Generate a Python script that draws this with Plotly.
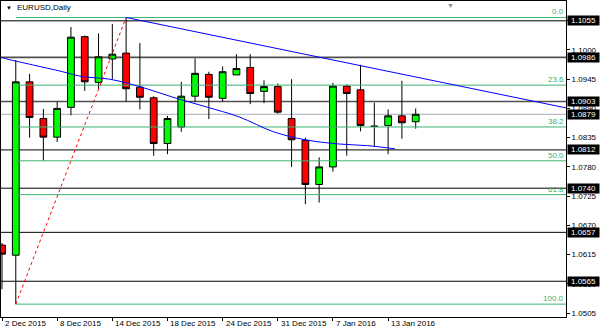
import datetime as dt
import plotly.graph_objects as go

# ---------------- data ----------------
dates = ["2015-12-02", "2015-12-03", "2015-12-04", "2015-12-07", "2015-12-08",
         "2015-12-09", "2015-12-10", "2015-12-11", "2015-12-14", "2015-12-15",
         "2015-12-16", "2015-12-17", "2015-12-18", "2015-12-21", "2015-12-22",
         "2015-12-23", "2015-12-24", "2015-12-28", "2015-12-29", "2015-12-30",
         "2015-12-31", "2016-01-04", "2016-01-05", "2016-01-06", "2016-01-07",
         "2016-01-08", "2016-01-11", "2016-01-12", "2016-01-13", "2016-01-14",
         "2016-01-15"]
opens = [1.0633, 1.0614, 1.0940, 1.0871, 1.0836, 1.0892, 1.1025, 1.0939, 1.0983, 1.0994,
         1.0930, 1.0910, 1.0824, 1.0855, 1.0913, 1.0954, 1.0909, 1.0953, 1.0967, 1.0922,
         1.0931, 1.0871, 1.0830, 1.0747, 1.0780, 1.0932, 1.0925, 1.0857, 1.0858, 1.0876,
         1.0865]
highs = [1.0637, 1.0981, 1.0955, 1.0889, 1.0902, 1.1043, 1.1027, 1.1031, 1.1049, 1.1061,
         1.1013, 1.0913, 1.0876, 1.0940, 1.0984, 1.0959, 1.0969, 1.0992, 1.0992, 1.0943,
         1.0937, 1.0945, 1.0835, 1.0798, 1.0938, 1.0935, 1.0972, 1.0901, 1.0888, 1.0942,
         1.0890]
lows = [1.0550, 1.0522, 1.0835, 1.0792, 1.0827, 1.0877, 1.0923, 1.0927, 1.0945, 1.0903,
        1.0888, 1.0801, 1.0804, 1.0846, 1.0902, 1.0870, 1.0903, 1.0953, 1.0898, 1.0900,
        1.0880, 1.0780, 1.0710, 1.0713, 1.0771, 1.0801, 1.0847, 1.0818, 1.0804, 1.0833,
        1.0852]
closes = [1.0616, 1.0940, 1.0873, 1.0836, 1.0890, 1.1024, 1.0940, 1.0987, 1.0992, 1.0927,
          1.0911, 1.0824, 1.0871, 1.0913, 1.0956, 1.0911, 1.0959, 1.0965, 1.0918, 1.0931,
          1.0883, 1.0831, 1.0747, 1.0780, 1.0932, 1.0918, 1.0858, 1.0856, 1.0876, 1.0863,
          1.0879]

label_idx = [0, 4, 8, 12, 16, 20, 24, 28]          # bars carrying a date label

sr_upper = [1.1055, 1.0986, 1.0903]                 # grey horizontal lines
sr_lower = [1.0812, 1.0740, 1.0657, 1.0565]         # black horizontal lines
bid_price = 1.0879

fib_start_idx = 1
fib_low = 1.0522
fib_high = 1.1061
fib_levels = [0.0, 23.6, 38.2, 50.0, 61.8, 100.0]
fib_link_x = [1, 9]
fib_link_y = [1.0522, 1.1061]

trend_x = [9, 40.9]
trend_y = [1.1061, 1.0891]

curve_x = [-0.07, 0.5, 2.2, 4.4, 5.8, 7.8, 10.0, 12.4, 14.8, 17.2, 19.7, 22.0, 24.5, 26.5, 28.5]
curve_y = [1.0986, 1.0982, 1.0972, 1.0959, 1.0950, 1.0945, 1.0931, 1.0911, 1.0893, 1.0874,
           1.0846, 1.0831, 1.0823, 1.0820, 1.0814]

ytick_start = 1.0505
ytick_step = 0.0055
ytick_count = 11

XMIN, XMAX = -0.0725, 40.9
YMIN, YMAX = 1.04978, 1.10920

FONT = "Liberation Sans, Arial, sans-serif"
GREEN_FIB = "#3CB371"

# ---------------- figure ----------------
xs = list(range(len(dates)))
fig = go.Figure()

# fib lines
for lv in fib_levels:
    p = fib_high - (fib_high - fib_low) * lv / 100.0
    fig.add_trace(go.Scatter(x=[fib_start_idx, XMAX], y=[p, p], mode="lines",
                             line=dict(color=GREEN_FIB, width=1), hoverinfo="skip",
                             showlegend=False))

# red dashed fib link
fig.add_trace(go.Scatter(x=fib_link_x, y=fib_link_y, mode="lines",
                         line=dict(color="#ff0000", width=1, dash="3px,3px"),
                         hoverinfo="skip", showlegend=False))

# blue lines
fig.add_trace(go.Scatter(x=trend_x, y=trend_y, mode="lines",
                         line=dict(color="#0000ff", width=1), hoverinfo="skip",
                         showlegend=False))
fig.add_trace(go.Scatter(x=curve_x, y=curve_y, mode="lines",
                         line=dict(color="#0000ff", width=1, shape="spline"),
                         hoverinfo="skip", showlegend=False))

# candles
fig.add_trace(go.Candlestick(
    x=xs, open=opens, high=highs, low=lows, close=closes,
    increasing=dict(fillcolor="#00ff00", line=dict(color="black", width=1)),
    decreasing=dict(fillcolor="#ff0000", line=dict(color="black", width=1)),
    whiskerwidth=0, showlegend=False, hoverinfo="skip"))

shapes = []
for p in sr_upper:
    shapes.append(dict(type="line", xref="paper", x0=0, x1=1, yref="y", y0=p, y1=p,
                       line=dict(color="#505050", width=1.6), layer="below"))
for p in sr_lower:
    shapes.append(dict(type="line", xref="paper", x0=0, x1=1, yref="y", y0=p, y1=p,
                       line=dict(color="black", width=1), layer="below"))
shapes.append(dict(type="line", xref="paper", x0=0, x1=1, yref="y", y0=bid_price, y1=bid_price,
                   line=dict(color="#a3acb8", width=1), layer="below"))

annotations = []
# date labels
for i in label_idx:
    d = dt.date.fromisoformat(dates[i])
    annotations.append(dict(x=i, xref="x", y=0, yref="paper", yanchor="top", xanchor="left",
                            text=f"{d.day} {d.strftime('%b %Y')}", showarrow=False,
                            xshift=1, yshift=0, font=dict(family=FONT, size=8, color="black")))
# fib labels
for lv in fib_levels:
    p = fib_high - (fib_high - fib_low) * lv / 100.0
    annotations.append(dict(x=1, xref="paper", y=p, yref="y", xanchor="right", yanchor="bottom",
                            text=f"{lv:.1f}", showarrow=False, xshift=-1, borderpad=0,
                            font=dict(family=FONT, size=8, color=GREEN_FIB)))
# boxed price labels
for p in sr_upper + [bid_price] + sr_lower:
    annotations.append(dict(x=1, xref="paper", y=p, yref="y", xanchor="left", yanchor="middle",
                            text=f"{p:.4f}", showarrow=False, xshift=1, bgcolor="black",
                            width=30, height=8, borderpad=0.5, align="center",
                            font=dict(family=FONT, size=8, color="white")))
# title
annotations.append(dict(x=0.005, xref="paper", y=0.979, yref="paper", xanchor="left",
                        yanchor="middle", text="▼", showarrow=False,
                        font=dict(family=FONT, size=6, color="black")))
annotations.append(dict(x=0.0248, xref="paper", y=0.978, yref="paper", xanchor="left",
                        yanchor="middle", text="EURUSD,Daily", showarrow=False,
                        font=dict(family=FONT, size=8, color="black")))
# shift marker
annotations.append(dict(x=0.795, xref="paper", y=1.0, yref="paper", xanchor="center",
                        yanchor="top", text="▼", showarrow=False, borderpad=0,
                        font=dict(family=FONT, size=7, color="#8a8a8a")))

ytickvals = [round(ytick_start + k * ytick_step, 4) for k in range(ytick_count)]

fig.update_layout(
    width=600, height=331, autosize=False,
    margin=dict(l=1, r=34, t=1, b=14, pad=0),
    paper_bgcolor="white", plot_bgcolor="white",
    font=dict(family=FONT, size=8, color="black"),
    shapes=shapes, annotations=annotations,
    xaxis=dict(range=[XMIN, XMAX], showgrid=False, zeroline=False, showline=True, mirror=True,
               linecolor="black", linewidth=1, ticks="outside", ticklen=3, tickcolor="black",
               tickmode="array", tickvals=label_idx, showticklabels=False,
               rangeslider=dict(visible=False), automargin=False, fixedrange=True),
    yaxis=dict(range=[YMIN, YMAX], side="right", showgrid=False, zeroline=False, showline=True,
               mirror=True, linecolor="black", linewidth=1, ticks="outside", ticklen=3,
               tickcolor="black", tickmode="array", tickvals=ytickvals,
               ticktext=[f"{v:.4f}" for v in ytickvals],
               tickfont=dict(family=FONT, size=8, color="black"), automargin=False,
               fixedrange=True),
)

fig.write_html("out.html")
